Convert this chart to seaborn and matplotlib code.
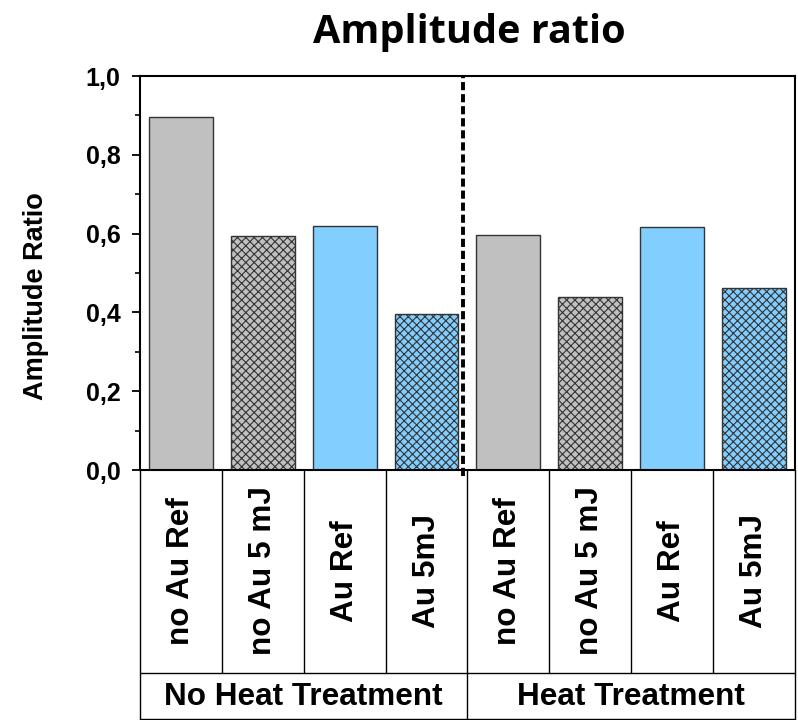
import numpy as np
import pandas as pd
import matplotlib
matplotlib.use("Agg")
import matplotlib.pyplot as plt
from matplotlib.ticker import MultipleLocator, FuncFormatter
import matplotlib.transforms as mtransforms
import seaborn as sns

# data
groups = ["No Heat Treatment", "Heat Treatment"]
samples = ["no Au Ref", "no Au 5 mJ", "Au Ref", "Au 5mJ"]
ratio_no_heat = [0.895, 0.594, 0.619, 0.396]
ratio_heat = [0.597, 0.440, 0.617, 0.462]

sns.set_theme(style="white")
plt.rcParams["font.family"] = ["Liberation Sans", "DejaVu Sans"]
plt.rcParams["hatch.linewidth"] = 0.8
plt.rcParams["text.color"] = "black"
plt.rcParams["ytick.color"] = "black"
plt.rcParams["xtick.color"] = "black"
plt.rcParams["axes.labelcolor"] = "black"

df = pd.DataFrame({
    "group": np.repeat(groups, len(samples)),
    "sample": samples * 2,
    "ratio": ratio_no_heat + ratio_heat,
})
df["key"] = df["group"] + " | " + df["sample"]

gray = "#C0C0C0"
blue = "#82CEFF"
fills = [gray, gray, blue, blue] * 2
hatches = ["", "xxxx", "", "xxxx"] * 2
palette = dict(zip(df["key"], fills))

fig = plt.figure(figsize=(7.98, 7.2), dpi=100)
ax = fig.add_axes([0.1754, 0.3472, 0.8208, 0.5472])

sns.barplot(data=df, x="key", y="ratio", hue="key", palette=palette,
            legend=False, width=0.78, saturation=1, edgecolor="#333333",
            linewidth=1.0, ax=ax)
for patch, h in zip(ax.patches, hatches):
    patch.set_hatch(h)

n = len(df)
ax.set_xlim(-0.5, n - 0.5)
ax.set_ylim(0, 1.0)
ax.set_xlabel("")
ax.set_ylabel("")
ax.set_xticks([])
ax.yaxis.set_major_locator(MultipleLocator(0.2))
ax.yaxis.set_minor_locator(MultipleLocator(0.1))
ax.yaxis.set_major_formatter(FuncFormatter(lambda v, p: f"{v:.1f}".replace(".", ",")))
ax.tick_params(axis="y", which="major", direction="out", length=6, width=1.3,
               pad=8, labelsize=18, left=True, colors="black")
ax.tick_params(axis="y", which="minor", direction="out", length=3.5, width=1.2,
               left=True, colors="black")
for lab in ax.get_yticklabels():
    lab.set_fontweight("bold")
for s in ax.spines.values():
    s.set_linewidth(1.5)
    s.set_color("black")

# dashed separator between the two groups
ax.plot([3.45, 3.45], [-0.015, 1.0], color="black", lw=2.8,
        linestyle=(0, (2.1, 1.0)), clip_on=False, zorder=5)

# category table below the axis
trans = mtransforms.blended_transform_factory(ax.transData, ax.transAxes)
row1 = -0.515
row2 = -0.632
for i in range(n + 1):
    x = i - 0.5
    y_end = row2 if i in (0, 4, 8) else row1
    ax.plot([x, x], [0, y_end], color="black", lw=1.0, transform=trans,
            clip_on=False)
ax.plot([-0.5, n - 0.5], [row1, row1], color="black", lw=1.0,
        transform=trans, clip_on=False)
ax.plot([-0.5, n - 0.5], [row2, row2], color="black", lw=1.0,
        transform=trans, clip_on=False)

for i, s in enumerate(df["sample"]):
    ax.text(i, -0.256, s, rotation=90, ha="center", va="center",
            fontsize=22.7, fontweight="bold", transform=trans)
for j, g in enumerate(groups):
    ax.text(1.5 + 4 * j, -0.576, g, ha="center", va="center",
            fontsize=22.7, fontweight="bold", transform=trans)

fig.text(0.045, 0.589, "Amplitude Ratio", rotation=90, ha="center",
         va="center", fontsize=19.5, fontweight="bold")
fig.text(0.588, 0.955, "Amplitude ratio", ha="center", va="center",
         fontsize=28.5, fontweight="bold", family=["Open Sans", "DejaVu Sans"])

fig.savefig("out.png", dpi=100, facecolor="white")
